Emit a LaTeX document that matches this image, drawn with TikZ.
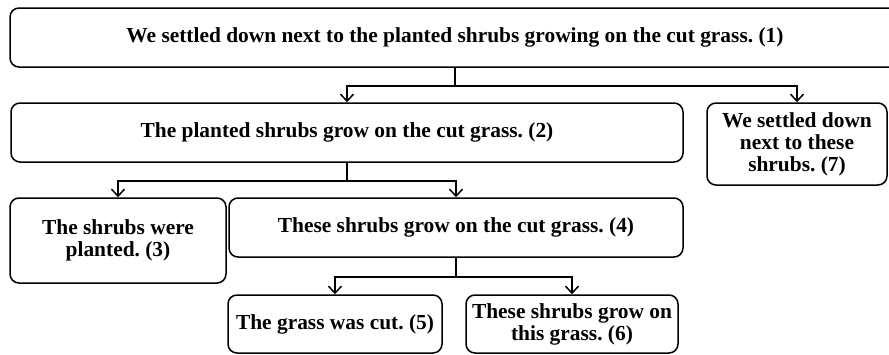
\documentclass[tikz,border=0pt]{standalone}
\usepackage{fontspec}
\setmainfont{Liberation Serif}
\frenchspacing
\usetikzlibrary{arrows.meta}

\tikzset{
  claim/.style={draw, line width=1.5pt, rounded corners=9pt, align=center,
    inner sep=0pt, font=\fontsize{21.4}{22}\selectfont\bfseries},
  link/.style={line width=1.5pt, -{Straight Barb[length=7pt,width=13pt]}}
}

\begin{document}
\begin{tikzpicture}[x=1pt,y=-1pt]
                \useasboundingbox (0,0) rectangle (889,354);
                \node[claim, minimum width=890pt, minimum height=59pt] (whole) at (455,37.5)
                    {We settled down next to the planted shrubs growing on the cut grass. (1)};
                \node[claim, minimum width=672pt, minimum height=59pt] (grow) at (347,132.5)
                    {The planted shrubs grow on the cut grass. (2)};
                \node[claim, minimum width=180pt, minimum height=82pt] (settle) at (797,144)
                    {We settled down\\next to these\\shrubs. (7)};
                \node[claim, minimum width=216pt, minimum height=85pt] (planted) at (118,240.5)
                    {The shrubs were\\planted. (3)};
                \node[claim, minimum width=454pt, minimum height=59pt] (these) at (456,227.5)
                    {These shrubs grow on the cut grass. (4)};
                \node[claim, minimum width=214pt, minimum height=58pt] (cut) at (335,324)
                    {The grass was cut. (5)};
                \node[claim, minimum width=212pt, minimum height=58pt] (on) at (572,324)
                    {These shrubs grow on\\this grass. (6)};
                % arrows
                \draw[link] (whole.south) -- ++(0,18) -| (grow.north);
                \draw[link] (whole.south) -- ++(0,18) -| (settle.north);
                \draw[link] (grow.south) -- ++(0,18) -| (planted.north);
                \draw[link] (grow.south) -- ++(0,18) -| (these.north);
                \draw[link] (these.south) -- ++(0,19) -| (cut.north);
                \draw[link] (these.south) -- ++(0,19) -| (on.north);
            \end{tikzpicture}
\end{document}
